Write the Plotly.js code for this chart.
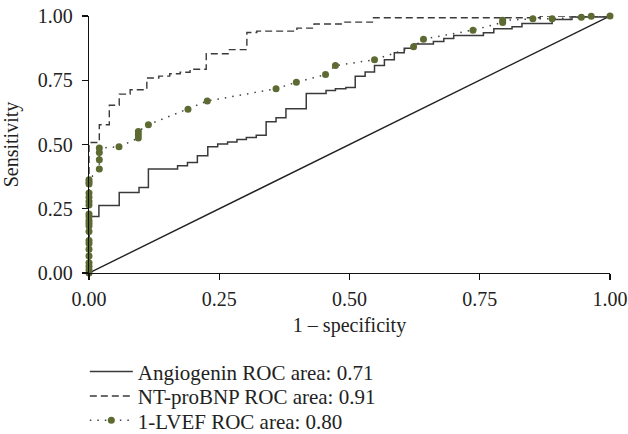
<!DOCTYPE html>
<html>
<head>
<meta charset="utf-8">
<script src="https://cdn.plot.ly/plotly-3.0.1.min.js"></script>
<style>html,body{margin:0;padding:0;background:#fff;}#chart{width:628px;height:434px;}</style>
</head>
<body>
<div id="chart"></div>
<script>
// Angiogenin ROC (step curve)
const angX = [0, 0, 0.019, 0.058, 0.096, 0.114, 0.170, 0.189, 0.208, 0.228, 0.247, 0.266, 0.284, 0.302, 0.321, 0.340, 0.359, 0.378, 0.417, 0.455, 0.473, 0.493, 0.511, 0.530, 0.548, 0.567, 0.586, 0.605, 0.623, 0.661, 0.681, 0.700, 0.757, 0.777, 0.812, 0.831, 0.889, 0.927, 1.0];
const angY = [0, 0.220, 0.263, 0.313, 0.333, 0.405, 0.417, 0.430, 0.456, 0.491, 0.502, 0.510, 0.519, 0.527, 0.536, 0.589, 0.604, 0.639, 0.698, 0.710, 0.717, 0.722, 0.766, 0.782, 0.807, 0.830, 0.857, 0.875, 0.891, 0.901, 0.912, 0.924, 0.935, 0.950, 0.958, 0.971, 0.986, 0.996, 1.0];

// NT-proBNP ROC (step curve)
const ntX = [0, 0, 0.0198, 0.039, 0.058, 0.079, 0.111, 0.134, 0.155, 0.175, 0.194, 0.225, 0.267, 0.303, 0.322, 0.399, 0.432, 0.484, 0.546, 0.866, 1.0];
const ntY = [0, 0.508, 0.577, 0.653, 0.696, 0.713, 0.759, 0.766, 0.775, 0.781, 0.793, 0.853, 0.869, 0.936, 0.941, 0.953, 0.969, 0.976, 0.993, 1.0, 1.0];

// 1-LVEF ROC (points)
const lvX = [0, 0, 0, 0, 0, 0, 0, 0, 0, 0, 0, 0, 0, 0, 0, 0, 0, 0, 0, 0, 0,
  0.0198, 0.0198, 0.0198, 0.0198, 0.0576, 0.0947, 0.0947, 0.0947, 0.114, 0.190, 0.227, 0.359, 0.398, 0.454, 0.473, 0.548, 0.623, 0.642, 0.737, 0.794, 0.794, 0.852, 0.889, 0.945, 0.964, 1.0];
const lvY = [0, 0.013, 0.026, 0.040, 0.066, 0.092, 0.115, 0.126, 0.161, 0.183, 0.194, 0.204, 0.219, 0.230, 0.265, 0.278, 0.295, 0.311, 0.346, 0.354, 0.363,
  0.405, 0.441, 0.469, 0.486, 0.491, 0.525, 0.538, 0.551, 0.577, 0.637, 0.669, 0.717, 0.742, 0.772, 0.807, 0.830, 0.880, 0.910, 0.945, 0.975, 0.983, 0.989, 0.989, 0.995, 0.999, 1.0];

// Reference diagonal
const refX = [0, 1];
const refY = [0, 1];

const tickVals = [0, 0.25, 0.5, 0.75, 1];
const tickText = ['0.00', '0.25', '0.50', '0.75', '1.00'];

const names = ['Angiogenin ROC area: 0.71', 'NT-proBNP ROC area: 0.91', '1-LVEF ROC area: 0.80'];

const FONT = 'Liberation Serif, Times New Roman, serif';

const traces = [
  {x: refX, y: refY, mode: 'lines', line: {color: '#222', width: 1.4}, showlegend: false, hoverinfo: 'skip'},
  {x: angX, y: angY, mode: 'lines', name: names[0], legend: 'legend', line: {color: '#3a3a3a', width: 1.5, shape: 'hv'}},
  {x: ntX, y: ntY, mode: 'lines', name: names[1], legend: 'legend2', line: {color: '#3a3a3a', width: 1.4, shape: 'hv', dash: '7px,4px'}},
  {x: lvX, y: lvY, mode: 'lines+markers', name: names[2], legend: 'legend3', cliponaxis: false,
   line: {color: '#444', width: 1.5, dash: '1.5px,6px'},
   marker: {color: '#5d6b33', size: 7}}
];

const axisCommon = {
  range: [0, 1], tickvals: tickVals, ticktext: tickText,
  showgrid: false, zeroline: false, showline: true, linecolor: '#111', linewidth: 1.3,
  ticks: 'outside', ticklen: 6, tickwidth: 1.2, tickcolor: '#111',
  tickfont: {family: FONT, size: 20, color: '#222'}, fixedrange: true
};

function legendAt(y) {
  return {x: -0.008, y: y, xanchor: 'left', yanchor: 'top', orientation: 'v',
    font: {family: FONT, size: 21, color: '#222'}, bgcolor: 'rgba(0,0,0,0)', itemwidth: 43};
}

const layout = {
  width: 628, height: 434,
  margin: {l: 89, r: 18, t: 16, b: 161, autoexpand: false},
  paper_bgcolor: '#fff', plot_bgcolor: '#fff',
  font: {family: FONT, size: 20, color: '#222'},
  xaxis: Object.assign({}, axisCommon, {ticklabelstandoff: 2,
    title: {text: '1 \u2013 specificity', font: {family: FONT, size: 20, color: '#222'}, standoff: 8}}),
  yaxis: Object.assign({}, axisCommon, {ticklabelstandoff: 5,
    title: {text: 'Sensitivity', font: {family: FONT, size: 20, color: '#222'}, standoff: 14}}),
  showlegend: true,
  legend: legendAt(-0.305),
  legend2: legendAt(-0.400),
  legend3: legendAt(-0.495)
};

Plotly.newPlot('chart', traces, layout, {displayModeBar: false, staticPlot: true});
</script>
</body>
</html>
